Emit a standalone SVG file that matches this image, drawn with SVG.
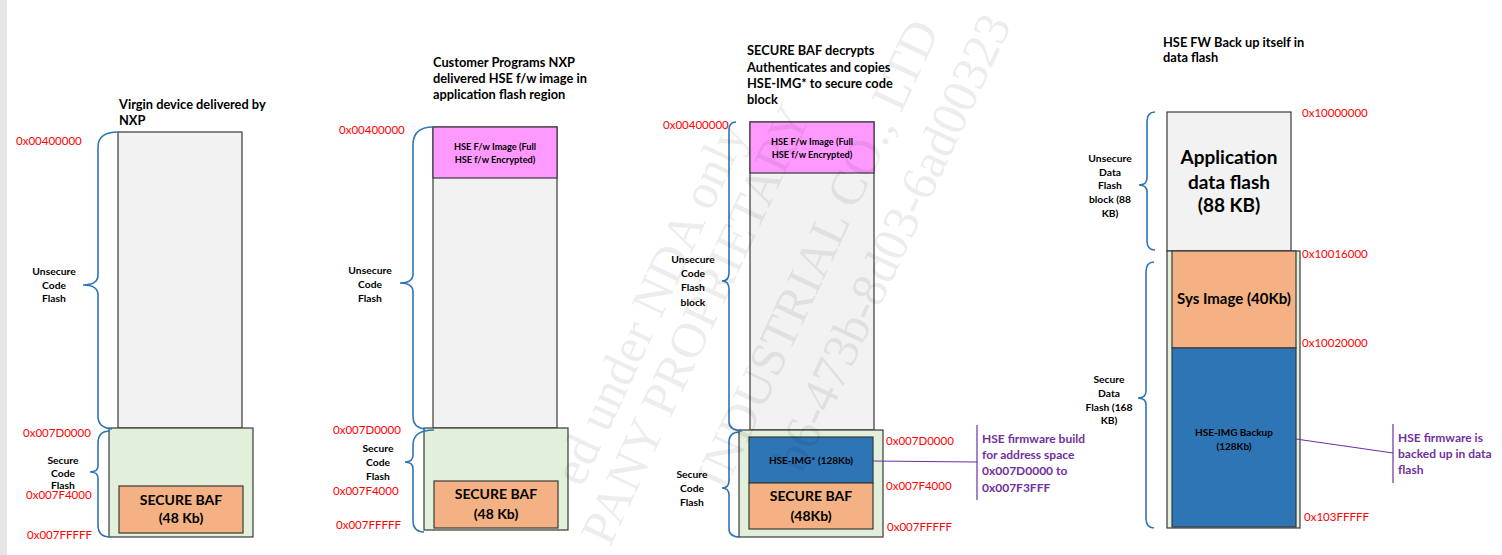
<svg xmlns="http://www.w3.org/2000/svg" width="1502" height="555" viewBox="0 0 1502 555">
<style>
text{font-family:Lato,"Liberation Sans",sans-serif;}
.t{font-size:12.8px;font-weight:bold;fill:#000;}
.addr{font-size:11.5px;fill:#ff0000;}
.lab{font-size:10.3px;font-weight:bold;fill:#000;text-anchor:middle;}
.box{stroke:#3a3a3a;stroke-width:1.2;}
.gray{fill:#f2f2f2;}
.green{fill:#e2efda;}
.orange{fill:#f4b183;}
.pink{fill:#ff99ff;}
.blue{fill:#2e75b6;}
.big{font-size:14px;font-weight:bold;text-anchor:middle;fill:#000;}
.small{font-size:9.2px;font-weight:bold;text-anchor:middle;fill:#000;}
.mid{font-size:10px;font-weight:bold;text-anchor:middle;fill:#000;}
.brace{fill:none;stroke:#2e75b6;stroke-width:1.6;}
.conn{fill:none;stroke:#7030a0;stroke-width:1.2;}
.note{font-size:12px;font-weight:bold;fill:#7030a0;}
.wm{font-family:"Liberation Serif",serif;font-size:50px;fill:#000;opacity:0.065;}
</style>
<rect x="0" y="0" width="7" height="555" fill="#e6e6e6"/>

<g id="col1">
  <g id="col1-title"><text class="t" x="119" y="109">Virgin device delivered by</text><text class="t" x="119" y="125">NXP</text></g>
  <g id="col1-unsecure"><rect class="box gray" x="118" y="132" width="124" height="296"/></g>
  <g id="col1-secure"><rect class="box green" x="109" y="428" width="144" height="109"/></g>
  <g id="col1-baf"><rect class="box orange" x="119" y="486" width="124" height="47"/><text class="big" x="181" y="505">SECURE BAF</text><text class="big" x="181" y="523">(48 Kb)</text></g>
  <g id="col1-labels">
    <text class="addr" x="16" y="145">0x00400000</text>
    <text class="lab" x="54" y="275">Unsecure</text><text class="lab" x="54" y="289">Code</text><text class="lab" x="54" y="302">Flash</text>
    <text class="addr" x="23" y="437">0x007D0000</text>
    <text class="lab" x="63" y="464">Secure</text><text class="lab" x="63" y="477">Code</text><text class="lab" x="63" y="489">Flash</text>
    <text class="addr" x="26" y="499">0x007F4000</text>
    <text class="addr" x="27" y="539">0x007FFFFF</text>
  </g>
</g>

<g id="col2">
  <g id="col2-title"><text class="t" x="433" y="67">Customer Programs NXP</text><text class="t" x="433" y="83">delivered HSE f/w image in</text><text class="t" x="433" y="99">application flash region</text></g>
  <g id="col2-unsecure"><rect class="box gray" x="433" y="127" width="124" height="301"/></g>
  <g id="col2-hsefw"><rect class="box pink" x="433" y="127" width="124" height="51"/><text class="small" x="495" y="150">HSE F/w Image (Full</text><text class="small" x="495" y="163">HSE f/w Encrypted)</text></g>
  <g id="col2-secure"><rect class="box green" x="424" y="428" width="144" height="102"/></g>
  <g id="col2-baf"><rect class="box orange" x="434" y="481" width="124" height="47"/><text class="big" x="496" y="499">SECURE BAF</text><text class="big" x="496" y="519">(48 Kb)</text></g>
  <g id="col2-labels">
    <text class="addr" x="339" y="134">0x00400000</text>
    <text class="lab" x="370" y="274">Unsecure</text><text class="lab" x="370" y="288">Code</text><text class="lab" x="370" y="302">Flash</text>
    <text class="addr" x="333" y="434">0x007D0000</text>
    <text class="lab" x="378" y="452">Secure</text><text class="lab" x="378" y="466">Code</text><text class="lab" x="378" y="480">Flash</text>
    <text class="addr" x="333" y="495">0x007F4000</text>
    <text class="addr" x="336" y="529">0x007FFFFF</text>
  </g>
</g>

<g id="col3">
  <g id="col3-title"><text class="t" x="747" y="55">SECURE BAF decrypts</text><text class="t" x="747" y="72">Authenticates and copies</text><text class="t" x="747" y="88">HSE-IMG* to secure code</text><text class="t" x="747" y="104">block</text></g>
  <g id="col3-unsecure"><rect class="box gray" x="750" y="122" width="124" height="308"/></g>
  <g id="col3-hsefw"><rect class="box pink" x="750" y="122" width="124" height="51"/><text class="small" x="812" y="145">HSE F/w Image (Full</text><text class="small" x="812" y="158">HSE f/w Encrypted)</text></g>
  <g id="col3-secure"><rect class="box green" x="739" y="430" width="144" height="107"/></g>
  <g id="col3-hseimg"><rect class="box blue" x="749" y="437" width="124" height="46"/><text class="mid" x="811" y="464">HSE-IMG* (128Kb)</text></g>
  <g id="col3-baf"><rect class="box orange" x="749" y="483" width="124" height="46"/><text class="big" x="811" y="501">SECURE BAF</text><text class="big" x="811" y="521">(48Kb)</text></g>
  <g id="col3-labels">
    <text class="addr" x="663" y="129">0x00400000</text>
    <text class="lab" x="693" y="263">Unsecure</text><text class="lab" x="693" y="277">Code</text><text class="lab" x="693" y="291">Flash</text><text class="lab" x="693" y="306">block</text>
    <text class="lab" x="692" y="478">Secure</text><text class="lab" x="692" y="492">Code</text><text class="lab" x="692" y="506">Flash</text>
    <text class="addr" x="886" y="445">0x007D0000</text>
    <text class="addr" x="886" y="490">0x007F4000</text>
    <text class="addr" x="887" y="531">0x007FFFFF</text>
  </g>
  <g id="col3-note"><text class="note" x="982" y="443">HSE firmware build</text><text class="note" x="982" y="459">for address space</text><text class="note" x="982" y="475">0x007D0000 to</text><text class="note" x="982" y="492">0x007F3FFF</text></g>
</g>

<g id="col4">
  <g id="col4-title"><text class="t" x="1163" y="47">HSE FW Back up itself in</text><text class="t" x="1163" y="62">data flash</text></g>
  <g id="col4-appdata"><rect class="box gray" x="1167" y="112" width="124" height="139"/>
    <text style="font-size:19px;font-weight:bold;text-anchor:middle" x="1229" y="164">Application</text>
    <text style="font-size:19px;font-weight:bold;text-anchor:middle" x="1229" y="189">data flash</text>
    <text style="font-size:19px;font-weight:bold;text-anchor:middle" x="1229" y="212">(88 KB)</text></g>
  <g id="col4-secure"><rect class="box green" x="1167" y="251" width="133" height="277"/></g>
  <g id="col4-sysimg"><rect class="box orange" x="1172" y="251" width="124" height="97"/><text style="font-size:15px;font-weight:bold;text-anchor:middle" x="1234" y="304">Sys Image (40Kb)</text></g>
  <g id="col4-backup"><rect class="box blue" x="1172" y="348" width="124" height="179"/><text class="mid" x="1234" y="436">HSE-IMG Backup</text><text class="mid" x="1234" y="450">(128Kb)</text></g>
  <g id="col4-labels">
    <text class="addr" x="1302" y="117">0x10000000</text>
    <text class="lab" x="1110" y="162">Unsecure</text><text class="lab" x="1110" y="176">Data</text><text class="lab" x="1110" y="189">Flash</text><text class="lab" x="1110" y="203">block (88</text><text class="lab" x="1110" y="217">KB)</text>
    <text class="addr" x="1302" y="258">0x10016000</text>
    <text class="addr" x="1302" y="347">0x10020000</text>
    <text class="lab" x="1109" y="383">Secure</text><text class="lab" x="1109" y="397">Data</text><text class="lab" x="1109" y="411">Flash (168</text><text class="lab" x="1109" y="424">KB)</text>
    <text class="addr" x="1304" y="521">0x103FFFFF</text>
  </g>
  <g id="col4-note"><text class="note" x="1398" y="442">HSE firmware is</text><text class="note" x="1398" y="458">backed up in data</text><text class="note" x="1398" y="474">flash</text></g>
</g>

<g id="braces">
  <path class="brace" d="M118,132 Q98,132 98,147 L98,275 Q98,285 83,285 Q98,285 98,295 L98,416 Q98,428 112,429"/>
  <path class="brace" d="M110,431 Q98,431 98,443 L98,466 Q98,472 90,472 Q98,472 98,478 L98,525 Q98,537 110,537"/>
  <path class="brace" d="M433,127 Q413,127 413,145 L413,274 Q413,283 400,283 Q413,283 413,292 L413,416 Q413,428 425,429"/>
  <path class="brace" d="M434,430 Q413,430 413,445 L413,455 Q413,462 405,462 Q413,462 413,469 L413,520 Q413,532 424,532"/>
  <path class="brace" d="M736,122 Q729,122 729,130 L729,273 Q729,281 722,281 Q729,281 729,289 L729,422 Q729,430 742,431"/>
  <path class="brace" d="M740,432 Q729,432 729,442 L729,481 Q729,488 722,488 Q729,488 729,495 L729,529 Q729,537 740,537"/>
  <path class="brace" d="M1155,112 Q1147,112 1147,122 L1147,178 Q1147,185 1139,185 Q1147,185 1147,192 L1147,241 Q1147,250 1155,250"/>
  <path class="brace" d="M1154,262 Q1146,262 1146,272 L1146,391 Q1146,398 1138,398 Q1146,398 1146,405 L1146,518 Q1146,528 1154,528"/>
</g>

<g id="connectors">
  <path class="conn" d="M873,461 L977,462"/>
  <path class="conn" d="M977,425 L977,500"/>
  <path class="conn" d="M1296,439 L1393,453"/>
  <path class="conn" d="M1393,424 L1393,483"/>
</g>

<g id="watermark">
  <text class="wm" text-anchor="end" transform="translate(748,132) rotate(-65)">ed under NDA only</text>
  <text class="wm" text-anchor="start" transform="translate(610,548) rotate(-65)">PANY PROPRIETARY</text>
  <text class="wm" text-anchor="end" transform="translate(940,30) rotate(-65)">INDUSTRIAL CO., LTD</text>
  <text class="wm" text-anchor="end" transform="translate(1012,24) rotate(-65)">b6-473b-8d03-6ad00323</text>
</g>
</svg>
